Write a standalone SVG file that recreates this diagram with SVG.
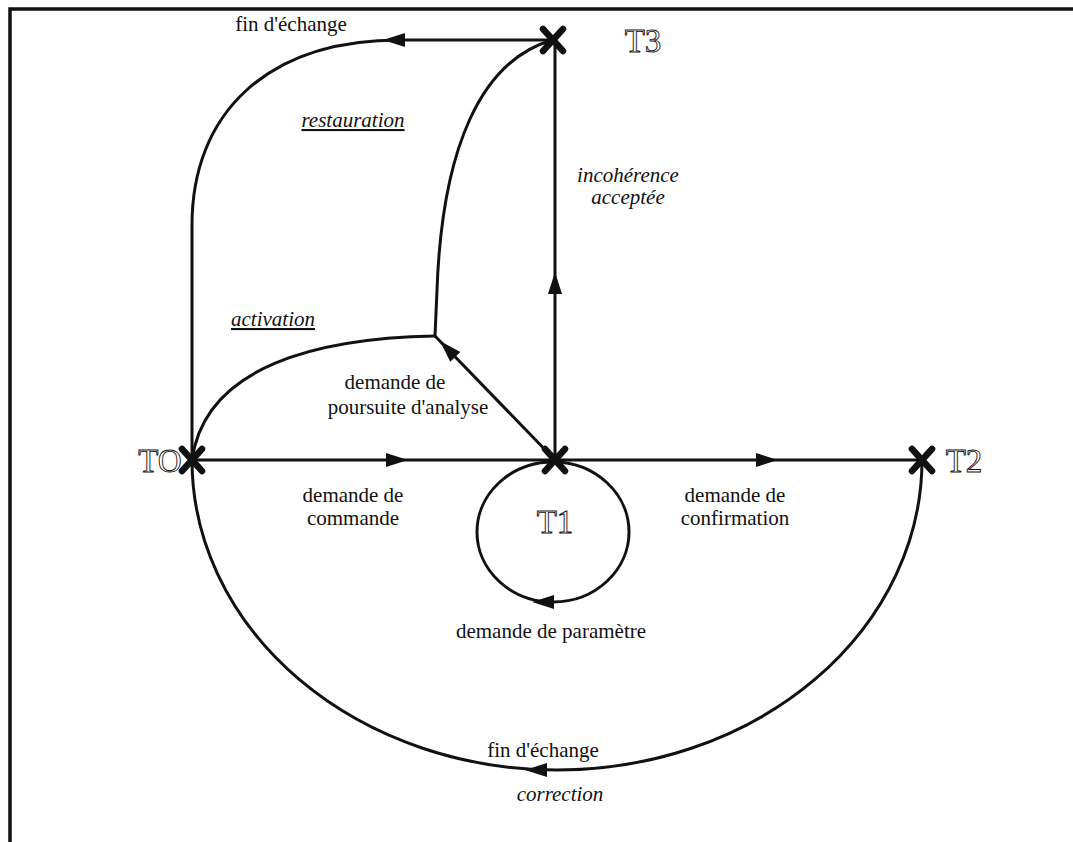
<svg xmlns="http://www.w3.org/2000/svg" xmlns:xlink="http://www.w3.org/1999/xlink" width="1073" height="842" viewBox="0 0 1073 842">
  <style>
    .lbl { font-family: "Liberation Serif", "DejaVu Serif", serif; font-size: 21px; fill: #111; text-anchor: middle; }
    .it { font-style: italic; }
    .ul { text-decoration: underline; }
    .state { font-family: "Liberation Serif", "DejaVu Serif", serif; font-size: 33px; fill: #fff; stroke: #111; stroke-width: 0.9; text-anchor: middle; }
    .edge { fill: none; stroke: #111; stroke-width: 3; }
    .cross { stroke: #111; stroke-width: 6.5; stroke-linecap: round; }
    .frame { stroke: #111; stroke-width: 3.5; fill: none; }
  </style>
  <defs>
    <!-- filled arrowhead, tip at the origin, pointing along +x -->
    <path id="ah" d="M0,0 L-22,-7 L-22,7 Z" fill="#111"/>
    <!-- bold cross used for each state -->
    <g id="xmark">
      <line class="cross" x1="-10" y1="-11" x2="10" y2="11"/>
      <line class="cross" x1="10" y1="-11" x2="-10" y2="11"/>
    </g>
  </defs>

  <rect width="1073" height="842" fill="#fff"/>
  <path class="frame" d="M10,842 L10,9 L1073,9"/>

  <!-- transitions -->
  <g id="connectors">
    <!-- T0 -> T1 : demande de commande -->
    <path class="edge" d="M192,460 L555,460"/>
    <use xlink:href="#ah" transform="translate(408,460)"/>
    <!-- T1 -> T2 : demande de confirmation -->
    <path class="edge" d="M555,460 L922,460"/>
    <use xlink:href="#ah" transform="translate(778,460)"/>
    <!-- T1 -> T3 : incohérence acceptée -->
    <path class="edge" d="M555,460 L555,40"/>
    <use xlink:href="#ah" transform="translate(555,272) rotate(-90)"/>
    <!-- T3 -> T0 : fin d'échange -->
    <path class="edge" d="M553,40 L400,40 C265,40 192,115 192,225 L192,460"/>
    <use xlink:href="#ah" transform="translate(383,40) rotate(180)"/>
    <!-- T1 -> branch : demande de poursuite d'analyse -->
    <path class="edge" d="M555,460 L435,336"/>
    <use xlink:href="#ah" transform="translate(440,341) rotate(-134)"/>
    <!-- branch -> T0 : activation -->
    <path class="edge" d="M435,336 C320,338 205,365 192,460"/>
    <!-- branch -> T3 : restauration -->
    <path class="edge" d="M435,336 L437,290 C442,150 480,60 553,40"/>
    <!-- T1 self loop : demande de paramètre -->
    <ellipse class="edge" cx="553" cy="532" rx="76" ry="70"/>
    <use xlink:href="#ah" transform="translate(532,602) rotate(180)"/>
    <!-- T2 -> T0 : fin d'échange / correction -->
    <path class="edge" d="M922,460 A365,310 0 0 1 192,460"/>
    <use xlink:href="#ah" transform="translate(525,770) rotate(180)"/>
  </g>

  <g id="T0">
    <use xlink:href="#xmark" transform="translate(192,460)"/>
    <text class="state" x="160" y="472">TO</text>
  </g>
  <g id="T1">
    <use xlink:href="#xmark" transform="translate(555,460)"/>
    <text class="state" x="555" y="533">T1</text>
  </g>
  <g id="T2">
    <use xlink:href="#xmark" transform="translate(922,460)"/>
    <text class="state" x="964" y="472">T2</text>
  </g>
  <g id="T3">
    <use xlink:href="#xmark" transform="translate(553,40)"/>
    <text class="state" x="643" y="52">T3</text>
  </g>

  <g id="labels">
    <text class="lbl" x="291" y="31">fin d'échange</text>
    <text class="lbl it ul" x="353" y="127">restauration</text>
    <text class="lbl it" x="628" y="182">incohérence</text>
    <text class="lbl it" x="628" y="204">acceptée</text>
    <text class="lbl it ul" x="273" y="326">activation</text>
    <text class="lbl" x="395" y="389">demande de</text>
    <text class="lbl" x="408" y="414">poursuite d'analyse</text>
    <text class="lbl" x="353" y="502">demande de</text>
    <text class="lbl" x="353" y="525">commande</text>
    <text class="lbl" x="735" y="502">demande de</text>
    <text class="lbl" x="735" y="525">confirmation</text>
    <text class="lbl" x="551" y="638">demande de paramètre</text>
    <text class="lbl" x="543" y="757">fin d'échange</text>
    <text class="lbl it" x="560" y="801">correction</text>
  </g>
</svg>
